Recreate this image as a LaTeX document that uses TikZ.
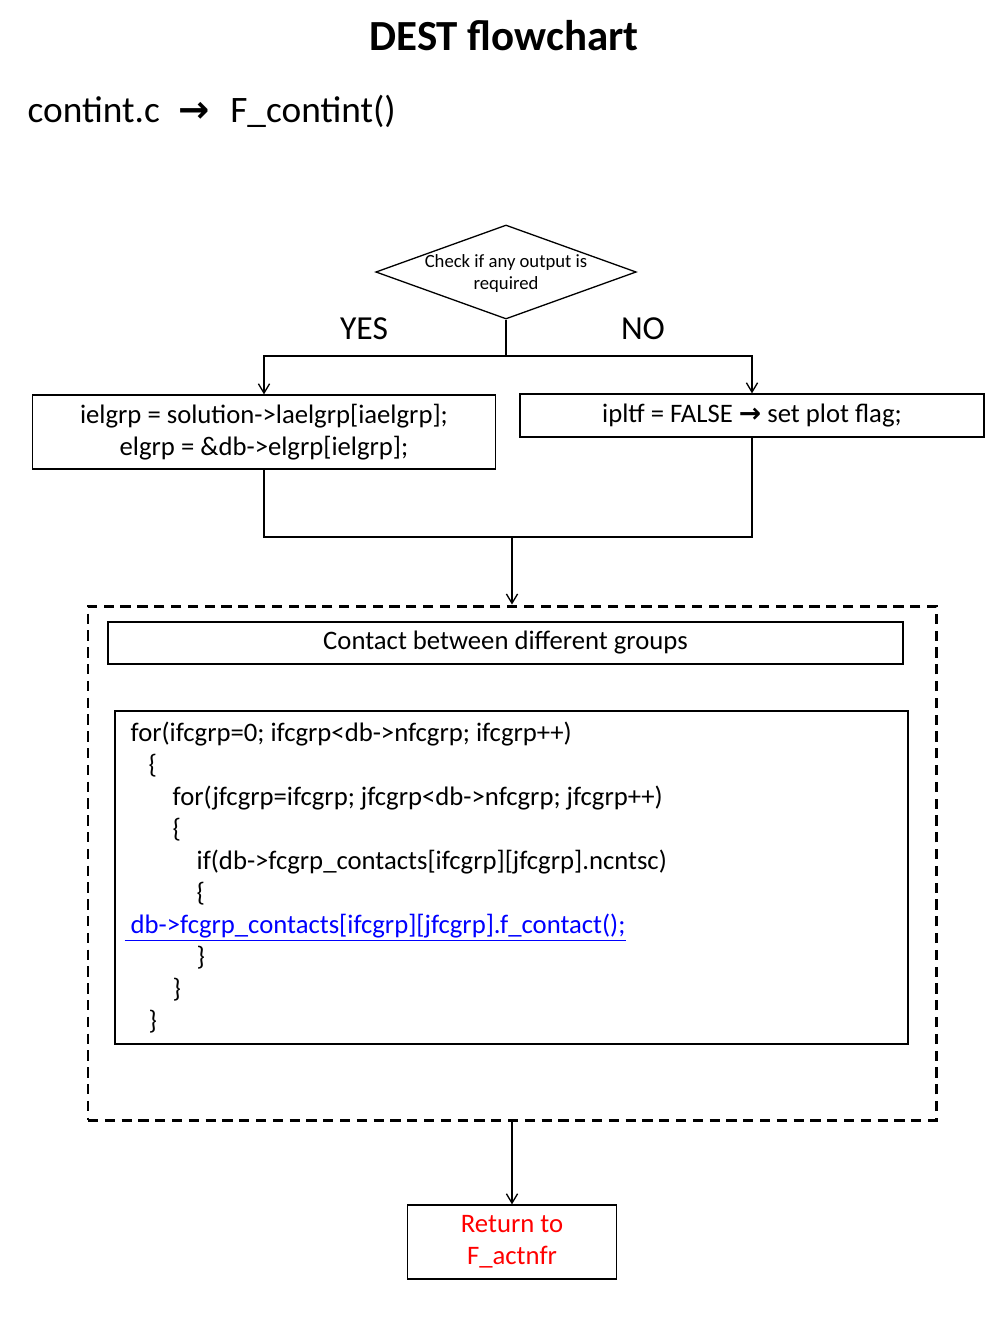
\documentclass[tikz,border=0pt]{standalone}
\usepackage{fontspec}
\setmainfont{Carlito}
\newfontfamily\arrowfont{DejaVu Sans}
\usepackage{xcolor}
\usetikzlibrary{shapes.geometric,arrows.meta}
\newcommand{\pxu}{0.5357pt}
\newcommand{\boldarrow}{{\arrowfont\bfseries →}}
\tikzset{box/.style={rectangle,draw,line width=0.7pt,inner sep=0pt,align=center,font=\fontsize{14.3}{17.1}\selectfont},
  decide/.style={diamond,draw,line width=0.7pt,aspect=2.77,inner sep=0pt,text depth=0pt,minimum width=260*\pxu,minimum height=94*\pxu,align=center,font=\fontsize{10}{12}\selectfont},
  codeline/.style={anchor=base west,inner sep=0pt,font=\fontsize{14.3}{17.1}\selectfont},
  answer/.style={font=\fontsize{18}{22}\selectfont}}

\begin{document}
\begin{tikzpicture}[x=\pxu,y=-\pxu,>={Straight Barb[length=5pt,width=6pt]},line width=0.7pt]
        \useasboundingbox (0,0) rectangle (1008,1344);
        \node[font=\fontsize{23}{28}\selectfont\bfseries] (title) at (504,36) {DEST flowchart};
        \node[anchor=west,inner sep=0pt,font=\fontsize{20}{24}\selectfont] (file) at (27,111) {contint.c\hspace{10pt}\boldarrow\hspace{11pt}F\_contint()};

        \node[decide] (check) at (506,272) {Check if any output is\\required};
        \node[answer] (yes) at (364,329) {YES};
        \node[answer] (no) at (643,329) {NO};
        \coordinate (split) at (506,356);

        \node[box,minimum width=463*\pxu,minimum height=74*\pxu] (sol) at (264,432) {ielgrp = solution->laelgrp[iaelgrp];\\elgrp = \&db->elgrp[ielgrp];};
        \node[box,minimum width=464*\pxu,minimum height=43*\pxu] (plt) at (752,415.5) {ipltf = FALSE \boldarrow\ set plot flag;};
        \coordinate (join) at (512,537);

        \node[draw,line width=1.6pt,dash pattern=on 5.5pt off 3.5pt,minimum width=848*\pxu,minimum height=514*\pxu] (group) at (512,863) {};
        \node[box,minimum width=795*\pxu,minimum height=42*\pxu] (contact) at (505.5,643) {Contact between different groups};
        \node[box,minimum width=793*\pxu,minimum height=333*\pxu] (code) at (511.5,877.5) {};
        \node[codeline] (c1) at (130,741) {for(ifcgrp=0; ifcgrp<db->nfcgrp; ifcgrp++)};
        \node[codeline] (c2) at (148,773) {\{};
        \node[codeline] (c3) at (172,805) {for(jfcgrp=ifcgrp; jfcgrp<db->nfcgrp; jfcgrp++)};
        \node[codeline] (c4) at (172,837) {\{};
        \node[codeline] (c5) at (196,869) {if(db->fcgrp\_contacts[ifcgrp][jfcgrp].ncntsc)};
        \node[codeline] (c6) at (196,901) {\{};
        \node[codeline,text=blue] (c7) at (124,933) {\underline{\ db->fcgrp\_contacts[ifcgrp][jfcgrp].f\_contact();}};
        \node[codeline] (c8) at (196,965) {\}};
        \node[codeline] (c9) at (172,997) {\}};
        \node[codeline] (c10) at (148,1029) {\}};

        \node[box,text=red,minimum width=209*\pxu,minimum height=74*\pxu] (ret) at (512,1242) {Return to\\F\_actnfr};

        \draw (check.south) -- (split);
        \draw [->] (split) -| (sol.north);
        \draw [->] (split) -| (plt.north);
        \draw (sol.south) |- (join) -| (plt.south);
        \draw [->] (join) -- (group.north);
        \draw [->] (group.south) -- (ret.north);
    \end{tikzpicture}
\end{document}
